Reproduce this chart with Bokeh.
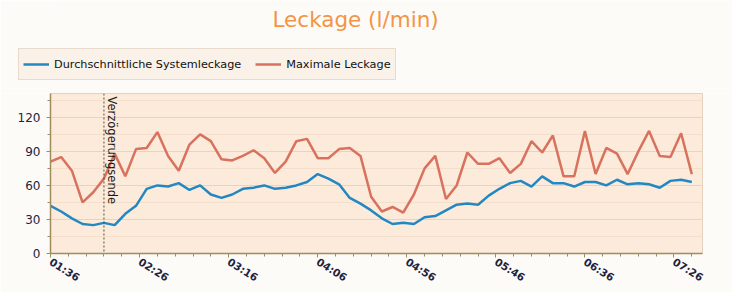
import math
from bokeh.plotting import figure
from bokeh.layouts import column
from bokeh.models import (Range1d, FixedTicker, Span, Label, Legend, LegendItem)
from bokeh.embed import file_html
from bokeh.resources import INLINE

# ---- data -------------------------------------------------------------
times = ["01:36", "01:42", "01:48", "01:54", "02:00", "02:06", "02:12", "02:18",
         "02:24", "02:30", "02:36", "02:42", "02:48", "02:54", "03:00", "03:06",
         "03:12", "03:18", "03:24", "03:30", "03:36", "03:42", "03:48", "03:54",
         "04:00", "04:06", "04:12", "04:18", "04:24", "04:30", "04:36", "04:42",
         "04:48", "04:54", "05:00", "05:06", "05:12", "05:18", "05:24", "05:30",
         "05:36", "05:42", "05:48", "05:54", "06:00", "06:06", "06:12", "06:18",
         "06:24", "06:30", "06:36", "06:42", "06:48", "06:54", "07:00", "07:06",
         "07:12", "07:18", "07:24", "07:30", "07:36"]

avg_leak = [42, 37, 31, 26, 25, 27, 25, 35, 42, 57, 60, 59, 62, 56, 60, 52,
            49, 52, 57, 58, 60, 57, 58, 60, 63, 70, 66, 61, 49, 44, 38, 31,
            26, 27, 26, 32, 33, 38, 43, 44, 43, 51, 57, 62, 64, 59, 68, 62,
            62, 59, 63, 63, 60, 65, 61, 62, 61, 58, 64, 65, 63]

max_leak = [81, 85, 73, 45, 54, 66, 88, 68, 92, 93, 107, 86, 73, 96, 105, 99,
            83, 82, 86, 91, 84, 71, 81, 99, 101, 84, 84, 92, 93, 86, 50, 37,
            41, 36, 52, 75, 86, 48, 60, 89, 79, 79, 84, 71, 79, 99, 89, 104,
            68, 68, 108, 70, 93, 88, 70, 90, 108, 86, 85, 106, 70]

x_tick_labels = ["01:36", "02:26", "03:16", "04:06", "04:56", "05:46", "06:36", "07:26"]
y_ticks = [0, 30, 60, 90, 120]
delay_end = "02:06"
x_start, x_end = "01:36", "07:42"

title_text = "Leckage (l/min)"
series_names = ["Durchschnittliche Systemleckage", "Maximale Leckage"]
marker_text = "Verzögerungsende"

BLUE = "#2388C2"
RED = "#D8725E"
FONT = "DejaVu Sans"
AXIS_COL = "#A08C5E"
PAGE_BG = "#FDFBF8"


def to_min(s):
    h, m = s.split(":")
    return int(h) * 60 + int(m)


x = [to_min(t) for t in times]
x0, x1 = to_min(x_start), to_min(x_end)
major_x = [to_min(t) for t in x_tick_labels]
minor_x = list(range(x0, x1 + 1, 10))

# ---- header: title + legend -------------------------------------------
HW, HH = 732, 93
head = figure(frame_width=HW, frame_height=HH,
              x_range=Range1d(0, HW), y_range=Range1d(0, HH),
              x_axis_type=None, y_axis_type=None,
              min_border_left=0, min_border_right=0,
              min_border_top=0, min_border_bottom=0,
              output_backend="svg", toolbar_location=None)
head.grid.visible = False
head.outline_line_color = None
head.background_fill_color = PAGE_BG
head.border_fill_color = PAGE_BG

head.add_layout(Label(x=222, y=74, x_units="screen", y_units="screen",
                      text=title_text, text_align="left",
                      text_baseline="middle", text_font=FONT,
                      text_font_size="21.5px", text_color="#F39447"))

# legend keys (styled like the chart lines, no visible data in the header)
k_avg = head.line([-50], [-50], line_color=BLUE, line_width=2.5)
k_max = head.line([-50], [-50], line_color=RED, line_width=2.5)
legend = Legend(items=[LegendItem(label=series_names[0], renderers=[k_avg]),
                       LegendItem(label=series_names[1], renderers=[k_max])],
                orientation="horizontal", location=(18, 13),
                padding=4, margin=0, spacing=14,
                glyph_width=26, glyph_height=22, label_height=22,
                label_standoff=5, label_text_font=FONT,
                label_text_font_size="11.25px", label_text_color="#111111",
                border_line_color="#D6C6B4", border_line_width=1,
                background_fill_color="#FAF1E8", background_fill_alpha=1)
head.add_layout(legend)

# ---- chart --------------------------------------------------------------
p = figure(frame_width=652, frame_height=160,
           min_border_left=50, min_border_right=30,
           min_border_top=0, min_border_bottom=39,
           x_range=Range1d(x0, x1), y_range=Range1d(0, 141),
           output_backend="svg", toolbar_location=None)

p.background_fill_color = "#FCEADA"
p.border_fill_color = PAGE_BG
p.outline_line_color = "#E6D2BC"
p.outline_line_width = 1

p.xgrid.grid_line_color = None
p.ygrid.grid_line_color = "#ECD3B8"
p.ygrid.grid_line_width = 1
p.ygrid.minor_grid_line_color = "#F3DFCB"

p.xaxis.ticker = FixedTicker(ticks=major_x, minor_ticks=minor_x)
p.xaxis.major_label_overrides = {v: lab for v, lab in zip(major_x, x_tick_labels)}
p.yaxis.ticker = FixedTicker(ticks=y_ticks, minor_ticks=[15, 45, 75, 105, 135])
for ax in (p.xaxis, p.yaxis):
    ax.axis_line_color = AXIS_COL
    ax.axis_line_width = 1.5
    ax.major_tick_line_color = AXIS_COL
    ax.minor_tick_line_color = AXIS_COL
    ax.major_tick_in = 0
    ax.minor_tick_in = 0
    ax.major_tick_out = 4
    ax.minor_tick_out = 3
    ax.major_label_text_font = FONT
    ax.major_label_text_color = "#1C2440"
p.xaxis.major_label_orientation = -0.56
p.xaxis.major_label_text_font_size = "10.5px"
p.xaxis.major_label_text_font_style = "bold"
p.xaxis.major_label_standoff = 3
p.yaxis.major_label_text_font_size = "12px"
p.yaxis.major_label_standoff = 6

p.line(x, avg_leak, line_color=BLUE, line_width=2.5)
p.line(x, max_leak, line_color=RED, line_width=2.5)

span = Span(location=to_min(delay_end), dimension="height",
            line_color="#4E5638", line_width=1, line_dash="2 2")
p.add_layout(span)
p.add_layout(Label(x=to_min(delay_end), y=141, text=marker_text,
                   angle=-math.pi / 2, text_baseline="bottom", text_align="left",
                   x_offset=1, y_offset=-3, text_font=FONT,
                   text_font_size="11.5px", text_color="#1A1A1A"))

layout = column(head, p, spacing=0)
open("out.html", "w").write(file_html(layout, INLINE))
